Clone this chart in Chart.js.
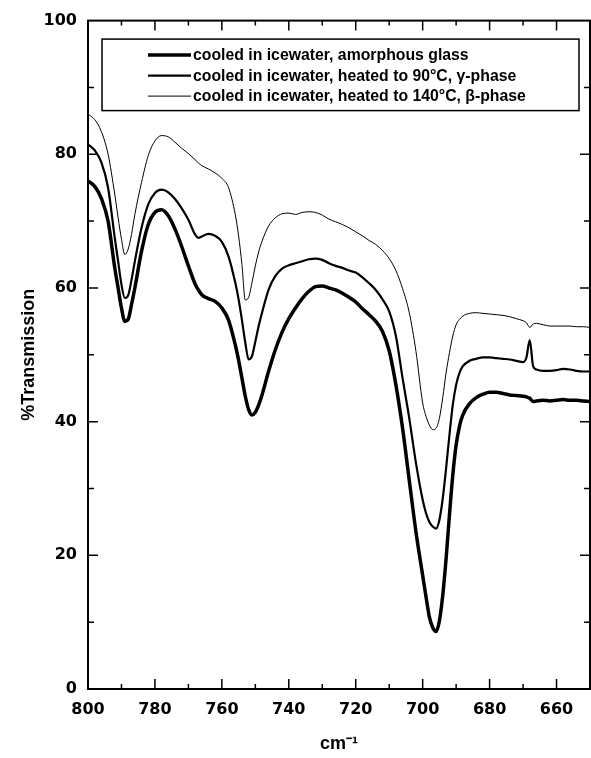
<!DOCTYPE html>
<html>
<head>
<meta charset="utf-8">
<script src="https://cdn.jsdelivr.net/npm/chart.js@4.4.0/dist/chart.umd.min.js"></script>
<style>
html, body { margin: 0; padding: 0; background: #fff; }
canvas { display: block; }
</style>
</head>
<body>
<canvas id="ir" width="591" height="758"></canvas>
<script>
// wavenumber grid (cm-1)
const wavenumbers = [800, 798, 796, 794, 792, 791, 790, 789, 788, 787,
  786, 784, 782, 780, 778, 776, 774, 772, 770, 768,
  767, 766, 764, 762, 760, 758, 756, 755, 754, 753,
  752, 751, 750, 749, 748, 746, 744, 742, 740, 738,
  736, 734, 732, 730, 728, 726, 724, 722, 720, 718,
  716, 714, 712, 710, 708, 706, 704, 702, 700, 699,
  698, 697, 696, 695, 694, 693, 692, 691, 690, 689,
  688, 686, 684, 682, 680, 678, 676, 674, 672, 670,
  669, 668, 667, 666, 664, 662, 660, 658, 656, 654,
  652, 650];

// %T, amorphous glass (thick line)
const amorphous = [76.0, 75.2, 73.4, 70.0, 63.0, 60.0, 57.0, 55.0, 55.3, 57.5,
  60.0, 65.5, 69.5, 71.3, 71.7, 70.8, 68.8, 66.2, 63.3, 60.6,
  59.7, 59.0, 58.4, 58.0, 57.0, 55.2, 51.5, 49.2, 46.5, 43.8,
  41.8, 41.0, 41.4, 42.5, 44.0, 47.6, 50.8, 53.4, 55.4, 57.0,
  58.4, 59.5, 60.2, 60.3, 60.0, 59.7, 59.2, 58.6, 57.9, 56.9,
  56.0, 55.0, 53.5, 50.6, 45.5, 39.0, 31.2, 23.5, 17.0, 13.8,
  10.8, 9.2, 8.6, 10.2, 14.0, 19.5, 26.0, 32.0, 36.5, 39.3,
  41.0, 42.7, 43.6, 44.1, 44.4, 44.4, 44.2, 44.0, 43.9, 43.8,
  43.7, 43.5, 43.0, 43.1, 43.2, 43.1, 43.2, 43.3, 43.2, 43.2,
  43.1, 43.0];

// %T, heated to 90 C, gamma phase (medium line)
const gamma90 = [81.5, 80.6, 78.8, 75.0, 67.5, 64.0, 60.5, 58.5, 58.9, 61.2,
  64.0, 69.0, 72.5, 74.2, 74.7, 74.3, 73.3, 71.9, 70.2, 68.0,
  67.5, 67.7, 68.1, 67.8, 66.9, 64.7, 60.8, 58.3, 55.2, 51.8,
  49.3, 49.8, 52.0, 54.3, 56.3, 59.8, 61.8, 62.9, 63.4, 63.7,
  64.0, 64.3, 64.4, 64.2, 63.7, 63.3, 63.0, 62.6, 62.3, 61.6,
  60.7, 59.7, 58.3, 56.5, 52.8, 46.5, 40.5, 33.8, 28.3, 26.3,
  25.0, 24.3, 24.0, 25.3, 28.5, 33.0, 38.0, 42.5, 45.5, 47.3,
  48.3, 49.1, 49.4, 49.6, 49.6, 49.5, 49.4, 49.3, 49.1, 48.9,
  49.6, 52.2, 48.3, 47.8, 47.6, 47.6, 47.7, 47.9, 47.8, 47.6,
  47.5, 47.5];

// %T, heated to 140 C, beta phase (thin line)
const beta140 = [86.0, 85.2, 83.4, 80.0, 74.0, 70.5, 67.3, 65.0, 65.8, 68.0,
  71.0, 75.8, 79.8, 82.0, 82.8, 82.6, 81.8, 80.9, 80.1, 79.2,
  78.7, 78.3, 77.8, 77.2, 76.4, 75.0, 71.0, 67.8, 63.5, 58.2,
  58.6, 60.8, 63.3, 65.4, 67.0, 69.3, 70.5, 71.1, 71.2, 71.0,
  71.3, 71.4, 71.3, 70.9, 70.3, 69.9, 69.5, 69.0, 68.4, 67.8,
  67.1, 66.5, 65.6, 64.4, 62.6, 59.9, 56.3, 50.5, 42.8, 40.8,
  39.5, 38.8, 39.0, 40.5, 43.6, 47.3, 50.3, 52.8, 54.5, 55.3,
  55.8, 56.2, 56.3, 56.2, 56.1, 56.0, 55.9, 55.7, 55.4, 55.1,
  54.8, 54.1, 54.6, 54.7, 54.5, 54.3, 54.3, 54.3, 54.3, 54.2,
  54.2, 54.1];

const seriesLabels = [
  'cooled in icewater, amorphous glass',
  'cooled in icewater, heated to 90°C, γ-phase',
  'cooled in icewater, heated to 140°C, β-phase'
];
const xTicks = [800, 780, 760, 740, 720, 700, 680, 660];
const yTicks = [0, 20, 40, 60, 80, 100];

const toPoints = vals => wavenumbers.map((w, i) => ({ x: w, y: vals[i] }));

// box round the plot with inward ticks on all four sides
const frame = {
  id: 'frame',
  afterDatasetsDraw(chart) {
    const { ctx, chartArea: a, scales: { x, y } } = chart;
    ctx.save();
    ctx.strokeStyle = '#000';
    ctx.lineWidth = 1.5;
    ctx.beginPath();
    for (let v = 660; v < 800; v += 10) {
      const px = x.getPixelForValue(v);
      const len = v % 20 === 0 ? 10 : 5;
      ctx.moveTo(px, a.bottom); ctx.lineTo(px, a.bottom - len);
      ctx.moveTo(px, a.top); ctx.lineTo(px, a.top + len);
    }
    for (let v = 10; v < 100; v += 10) {
      const py = y.getPixelForValue(v);
      const len = v % 20 === 0 ? 10 : 6;
      ctx.moveTo(a.left, py); ctx.lineTo(a.left + len, py);
      ctx.moveTo(a.right, py); ctx.lineTo(a.right - len, py);
    }
    ctx.stroke();
    ctx.lineWidth = 2;
    ctx.strokeRect(a.left, a.top, a.right - a.left, a.bottom - a.top);
    ctx.restore();
  }
};

// legend drawn inside the plot, in a ruled box
const boxLegend = {
  id: 'boxLegend',
  afterDatasetsDraw(chart) {
    const { ctx, chartArea: a } = chart;
    const left = a.left + 14, top = a.top + 18.5, right = a.right - 11, bottom = a.top + 90;
    ctx.save();
    ctx.fillStyle = '#fff';
    ctx.fillRect(left, top, right - left, bottom - top);
    ctx.strokeStyle = '#000';
    ctx.lineWidth = 1.5;
    ctx.strokeRect(left, top, right - left, bottom - top);
    ctx.font = 'bold 15.8px "Liberation Sans", Arial, sans-serif';
    ctx.textBaseline = 'middle';
    ctx.fillStyle = '#000';
    chart.data.datasets.forEach((ds, i) => {
      const yy = top + 16 + i * 20.5;
      ctx.lineWidth = ds.borderWidth;
      ctx.beginPath();
      ctx.moveTo(left + 46, yy);
      ctx.lineTo(left + 89, yy);
      ctx.stroke();
      ctx.fillText(ds.label, left + 91, yy + 1);
    });
    ctx.restore();
  }
};

const tickFont = { family: '"DejaVu Sans", sans-serif', weight: 'bold', size: 16 };
const titleFont = { family: '"Liberation Sans", Arial, sans-serif', weight: 'bold', size: 18 };

new Chart(document.getElementById('ir'), {
  type: 'line',
  data: {
    datasets: [
      { label: seriesLabels[0], data: toPoints(amorphous), borderColor: '#000', borderWidth: 3.5 },
      { label: seriesLabels[1], data: toPoints(gamma90), borderColor: '#000', borderWidth: 2.2 },
      { label: seriesLabels[2], data: toPoints(beta140), borderColor: '#000', borderWidth: 1 }
    ]
  },
  options: {
    responsive: false,
    animation: false,
    layout: { padding: { top: 18, right: 1, left: 0, bottom: 0 } },
    elements: {
      point: { radius: 0 },
      line: { cubicInterpolationMode: 'monotone', fill: false }
    },
    plugins: {
      legend: { display: false },
      tooltip: { enabled: false }
    },
    scales: {
      x: {
        type: 'linear',
        reverse: true,
        min: 650,
        max: 800,
        afterBuildTicks: s => { s.ticks = xTicks.map(v => ({ value: v })); },
        afterFit: s => { s.height = 69; },
        grid: { display: false, drawTicks: false },
        border: { display: false },
        ticks: { color: '#000', font: tickFont, padding: 11, maxRotation: 0, autoSkip: false },
        title: { display: true, text: 'cm⁻¹', color: '#000', font: titleFont, padding: { top: 0, bottom: 3 } }
      },
      y: {
        min: 0,
        max: 100,
        afterBuildTicks: s => { s.ticks = yTicks.map(v => ({ value: v })); },
        afterFit: s => { s.width = 88; },
        grid: { display: false, drawTicks: false },
        border: { display: false },
        ticks: { color: '#000', font: tickFont, padding: 11 },
        title: { display: true, text: '%Transmission', color: '#000', font: titleFont, padding: 18 }
      }
    }
  },
  plugins: [frame, boxLegend]
});
</script>
</body>
</html>
